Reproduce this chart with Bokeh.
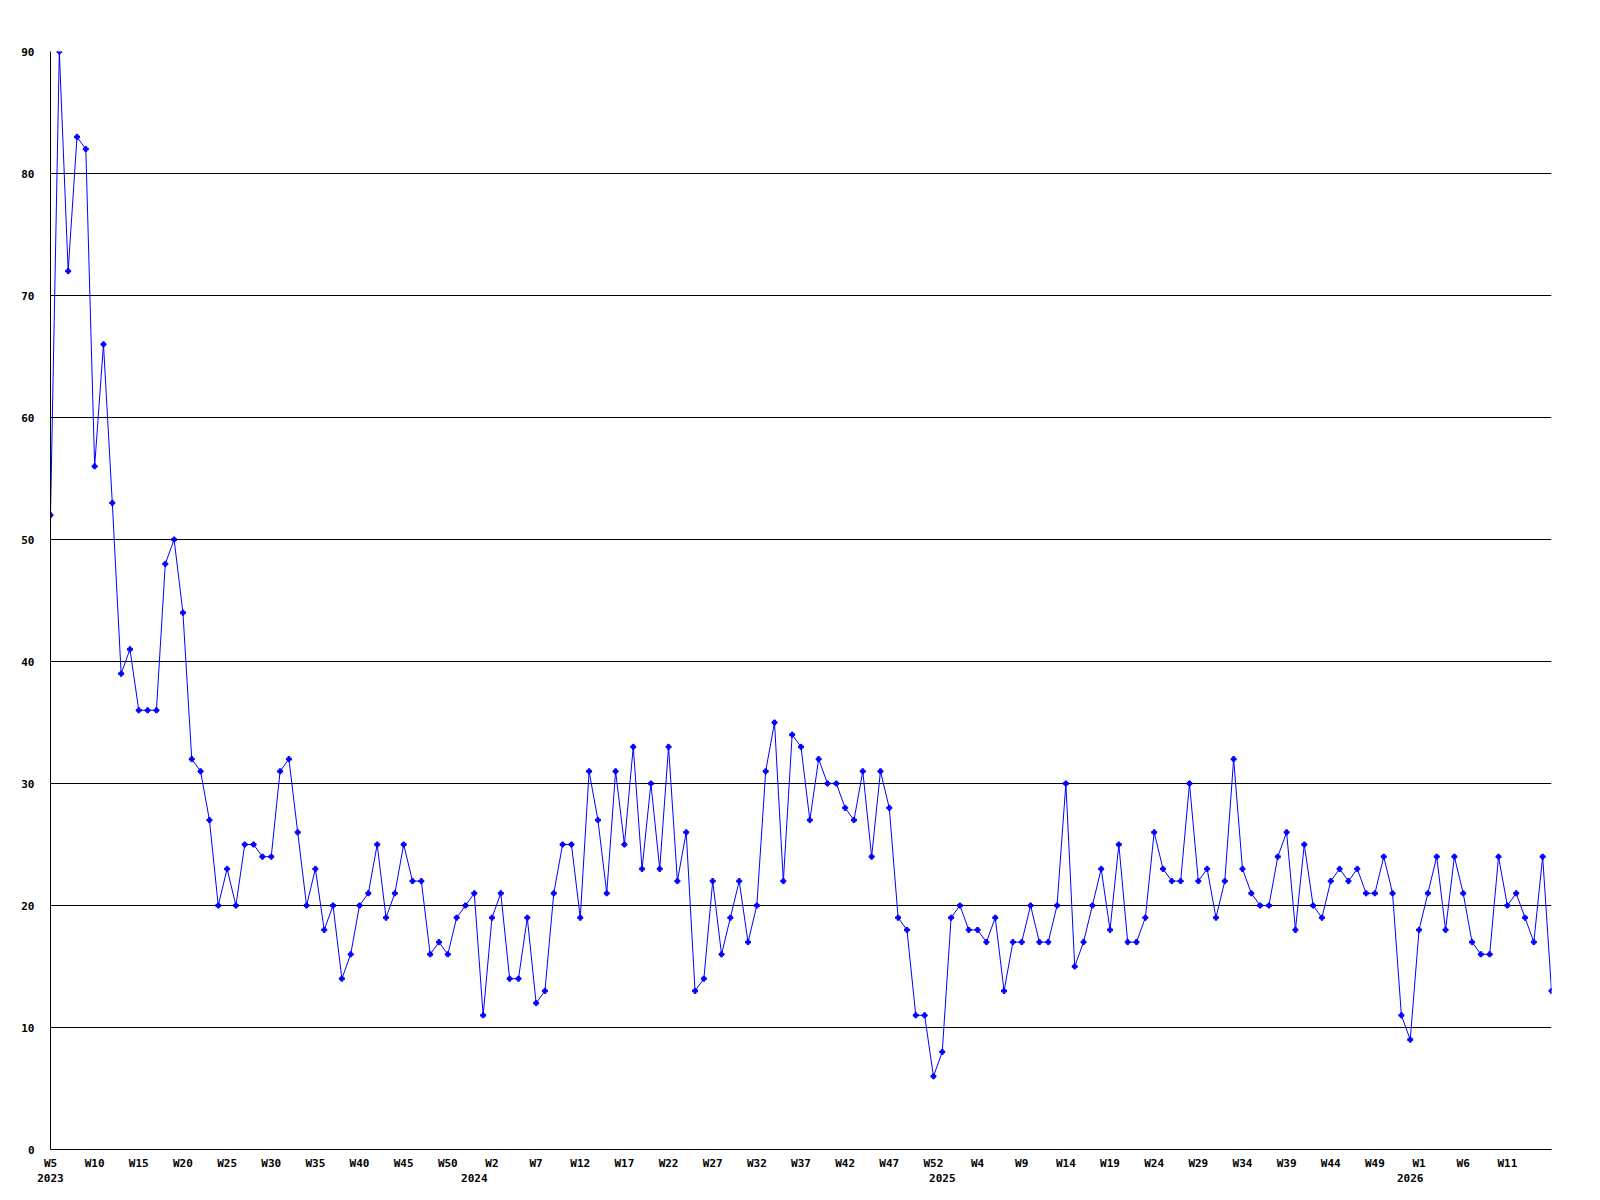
from bokeh.plotting import figure
from bokeh.models import Range1d, FixedTicker, LinearAxis, ColumnDataSource
from bokeh.embed import file_html
from bokeh.resources import INLINE

# ---- data ----
years = ["2023", "2024", "2025", "2026"]
first_week = 5          # series starts at 2023 W5
weeks_per_year = 52
last_week_2026 = 16

values = [
    52, 90, 72, 83, 82, 56, 66, 53, 39, 41, 36, 36, 36, 48, 50, 44, 32, 31, 27, 20,
    23, 20, 25, 25, 24, 24, 31, 32, 26, 20, 23, 18, 20, 14, 16, 20, 21, 25, 19, 21,
    25, 22, 22, 16, 17, 16, 19, 20, 21, 11, 19, 21, 14, 14, 19, 12, 13, 21, 25, 25,
    19, 31, 27, 21, 31, 25, 33, 23, 30, 23, 33, 22, 26, 13, 14, 22, 16, 19, 22, 17,
    20, 31, 35, 22, 34, 33, 27, 32, 30, 30, 28, 27, 31, 24, 31, 28, 19, 18, 11, 11,
    6, 8, 19, 20, 18, 18, 17, 19, 13, 17, 17, 20, 17, 17, 20, 30, 15, 17, 20, 23,
    18, 25, 17, 17, 19, 26, 23, 22, 22, 30, 22, 23, 19, 22, 32, 23, 21, 20, 20, 24,
    26, 18, 25, 20, 19, 22, 23, 22, 23, 21, 21, 24, 21, 11, 9, 18, 21, 24, 18, 24,
    21, 17, 16, 16, 24, 20, 21, 19, 17, 24, 13,
]

y_ticks = [0, 10, 20, 30, 40, 50, 60, 70, 80, 90]

# week categories (one per value) and the year each belongs to
week_labels = []
week_years = []
for yi, yr in enumerate(years):
    start = first_week if yi == 0 else 0
    end = last_week_2026 if yr == "2026" else weeks_per_year
    for w in range(start, end + 1):
        week_labels.append("W%d" % w)
        week_years.append(yr)

idx = list(range(len(values)))
src = ColumnDataSource(dict(x=idx, y=values))

# ticks every 5 weeks, year label at first week of each year
x_tick_pos = [i for i in idx if i % 5 == 0 and i < len(values) - 1]
x_tick_labels = {i: week_labels[i] for i in x_tick_pos}
year_pos = [i for i in idx if i == 0 or week_years[i] != week_years[i - 1]]
year_labels = {i: week_years[i] for i in year_pos}

FONT = "DejaVu Sans Mono"
BLUE = "#0000ff"

p = figure(width=1592, height=1192, output_backend="svg", toolbar_location=None,
           x_range=Range1d(0, len(values) - 1), y_range=Range1d(0, 90),
           x_axis_location=None, y_axis_location=None)
p.min_border_left = 50
p.min_border_right = 41
p.min_border_top = 51
p.min_border_bottom = 43
p.outline_line_color = None
p.background_fill_color = "white"
p.border_fill_color = "white"

# y axis
ya = LinearAxis(ticker=FixedTicker(ticks=y_ticks))
ya.axis_line_color = "black"
ya.axis_line_width = 1
ya.major_tick_line_color = None
ya.minor_tick_line_color = None
ya.major_tick_out = 0
ya.major_label_standoff = 16
ya.major_label_text_font = FONT
ya.major_label_text_font_style = "bold"
ya.major_label_text_font_size = "11px"
ya.major_label_text_color = "black"
p.add_layout(ya, "left")

# x axis (weeks)
xa = LinearAxis(ticker=FixedTicker(ticks=x_tick_pos))
xa.major_label_overrides = x_tick_labels
xa.axis_line_color = "black"
xa.axis_line_width = 1
xa.major_tick_line_color = None
xa.minor_tick_line_color = None
xa.major_tick_out = 0
xa.major_tick_in = 0
xa.major_label_standoff = 7
xa.major_label_text_font = FONT
xa.major_label_text_font_style = "bold"
xa.major_label_text_font_size = "11px"
xa.major_label_text_color = "black"
p.add_layout(xa, "below")

# x axis (years)
xa2 = LinearAxis(ticker=FixedTicker(ticks=year_pos))
xa2.major_label_overrides = year_labels
xa2.axis_line_color = None
xa2.major_tick_line_color = None
xa2.minor_tick_line_color = None
xa2.major_tick_out = 0
xa2.major_tick_in = 0
xa2.major_label_standoff = 1
xa2.major_label_text_font = FONT
xa2.major_label_text_font_style = "bold"
xa2.major_label_text_font_size = "11px"
xa2.major_label_text_color = "black"
p.add_layout(xa2, "below")

# grid
p.xgrid.visible = False
p.ygrid.ticker = FixedTicker(ticks=y_ticks)
p.ygrid.grid_line_color = "black"
p.ygrid.grid_line_width = 1
p.ygrid.grid_line_alpha = 1.0

p.line("x", "y", source=src, line_color=BLUE, line_width=1)
p.scatter("x", "y", source=src, marker="plus", size=5, color=BLUE)

open("out.html", "w").write(file_html(p, INLINE))
